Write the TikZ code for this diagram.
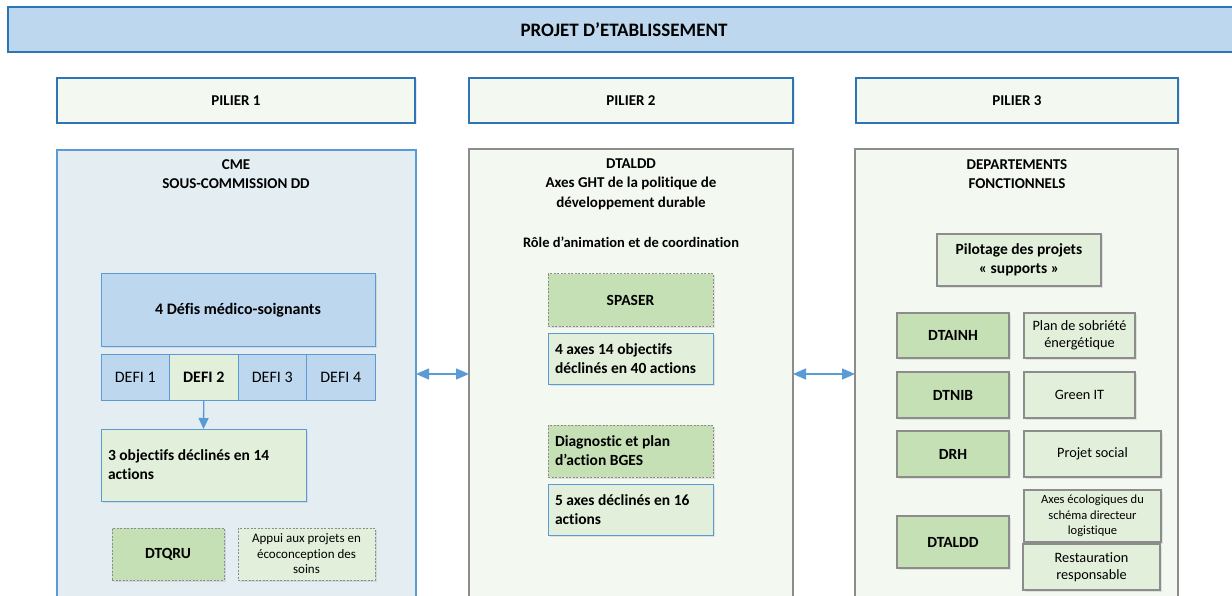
\documentclass[tikz,border=0pt]{standalone}
\usepackage{fontspec}
\setmainfont{Carlito}[Ligatures=NoCommon]
\usetikzlibrary{arrows.meta,shadows}
\definecolor{bluefill}{HTML}{BDD7EE}
\definecolor{blueline}{HTML}{5B9BD5}
\definecolor{darkblueline}{HTML}{2E75B6}
\definecolor{colonefill}{HTML}{E4EDF1}
\definecolor{palefill}{HTML}{F3F8F0}
\definecolor{greylinec}{HTML}{8C8C8C}
\definecolor{lightgreen}{HTML}{E2EFDA}
\definecolor{midgreen}{HTML}{C5E0B4}
\tikzset{
  sh/.style={drop shadow={opacity=0.18,shadow xshift=1.5pt,shadow yshift=-1.5pt}},
  basebox/.style={rectangle, inner sep=0pt, outer sep=0pt, align=center},
  topbox/.style={basebox, fill=bluefill, draw=darkblueline, line width=1.2pt, sh,
     font=\fontsize{19}{23}\selectfont\bfseries},
  pilbox/.style={basebox, fill=palefill, draw=darkblueline, line width=1.3pt, sh,
     font=\fontsize{15}{18}\selectfont\bfseries},
  colblue/.style={basebox, fill=colonefill, draw=blueline, line width=1.2pt},
  colgrey/.style={basebox, fill=palefill, draw=greylinec, line width=1.5pt},
  coltitle/.style={basebox, font=\fontsize{15}{19.5}\selectfont\bfseries},
  defisbox/.style={basebox, fill=bluefill, draw=blueline, line width=1pt, sh,
     font=\fontsize{16}{19}\selectfont\bfseries},
  deficell/.style={basebox, fill=bluefill, draw=blueline, line width=1pt,
     font=\fontsize{16}{18}\selectfont},
  greenblue/.style={basebox, fill=lightgreen, draw=blueline, line width=1pt, sh,
     font=\fontsize{15.5}{19}\selectfont\bfseries, align=flush left},
  dashmid/.style={basebox, fill=midgreen, draw=greylinec, line width=1pt,
     dash pattern=on 2pt off 1.5pt, sh, font=\fontsize{15.5}{19}\selectfont\bfseries},
  dashlight/.style={basebox, fill=lightgreen, draw=greylinec, line width=1pt,
     dash pattern=on 2pt off 1.5pt, sh, font=\fontsize{13}{15.5}\selectfont},
  solmid/.style={basebox, fill=midgreen, draw=greylinec, line width=1.3pt, sh,
     font=\fontsize{15.5}{19}\selectfont\bfseries},
  sollight/.style={basebox, fill=lightgreen, draw=greylinec, line width=1.3pt, sh,
     font=\fontsize{14.3}{17.5}\selectfont},
  bluearrow/.style={draw=blueline, line width=1.5pt,
     {Triangle[length=13pt,width=11pt]}-{Triangle[length=13pt,width=11pt]}},
  downarrow/.style={draw=blueline, line width=1.3pt,
     -{Triangle[length=11pt,width=10pt]}}
}
\begin{document}
\begin{tikzpicture}[x=1pt,y=-1pt]
\useasboundingbox (0,0) rectangle (1232,596);
\fill[white] (0,0) rectangle (1232,596);

% top banner
\node[topbox, minimum width=1232pt, minimum height=45pt] (top) at (624,29.5) {PROJET D’ETABLISSEMENT};

% pillars
\node[pilbox, minimum width=358pt, minimum height=45pt] (p1) at (236,100.5) {PILIER 1};
\node[pilbox, minimum width=324pt, minimum height=45pt] (p2) at (631,100.5) {PILIER 2};
\node[pilbox, minimum width=322pt, minimum height=45pt] (p3) at (1017,100.5) {PILIER 3};

% columns
\node[colblue, minimum width=359pt, minimum height=448pt] (c1) at (236.5,374) {};
\node[colgrey, minimum width=324pt, minimum height=450pt] (c2) at (631,374) {};
\node[colgrey, minimum width=323pt, minimum height=450pt] (c3) at (1016.5,374) {};

% arrows between columns
\draw[bluearrow] (c1.east) -- (c2.west);
\draw[bluearrow] (c2.east) -- (c3.west);

% column 1
\node[coltitle] (t1) at (236,174) {CME\\SOUS-COMMISSION DD};
\node[defisbox, minimum width=274pt, minimum height=72pt] (defis) at (238,310) {4 Défis médico-soignants};
\node[deficell, minimum width=68.5pt, minimum height=46pt] (d1) at (135.25,377) {DEFI 1};
\node[deficell, minimum width=68.5pt, minimum height=46pt, fill=lightgreen, font=\fontsize{16}{18}\selectfont\bfseries] (d2) at (203.75,377) {DEFI 2};
\node[deficell, minimum width=68.5pt, minimum height=46pt] (d3) at (272.25,377) {DEFI 3};
\node[deficell, minimum width=68.5pt, minimum height=46pt] (d4) at (340.75,377) {DEFI 4};
\node[greenblue, minimum width=205pt, minimum height=72pt, text width=191pt] (obj) at (203.5,465) {3 objectifs déclinés en 14\\actions};
\draw[downarrow] (d2.south) -- (obj.north);
\node[dashmid, minimum width=112pt, minimum height=52pt] (dtqru) at (168,554) {DTQRU};
\node[dashlight, minimum width=137pt, minimum height=52pt] (appui) at (306.5,554) {Appui aux projets en\\écoconception des\\soins};

% column 2
\node[coltitle] (t2a) at (631,184) {DTALDD\\Axes GHT de la politique de\\développement durable};
\node[coltitle, font=\fontsize{14.5}{19}\selectfont\bfseries] (t2b) at (631,242) {Rôle d’animation et de coordination};
\node[dashmid, minimum width=165pt, minimum height=52pt] (spaser) at (630.5,300) {SPASER};
\node[greenblue, minimum width=165pt, minimum height=51pt, text width=151pt] (axes4) at (630.5,358.5) {4 axes 14 objectifs\\déclinés en 40 actions};
\node[dashmid, minimum width=165pt, minimum height=52pt, text width=151pt, align=flush left] (diag) at (630.5,451) {Diagnostic et plan\\d’action BGES};
\node[greenblue, minimum width=165pt, minimum height=51pt, text width=151pt] (axes5) at (630.5,509.5) {5 axes déclinés en 16\\actions};

% column 3
\node[coltitle] (t3) at (1017,174) {DEPARTEMENTS\\FONCTIONNELS};
\node[sollight, minimum width=164pt, minimum height=52pt, font=\fontsize{15.5}{19}\selectfont\bfseries] (pilot) at (1019,260) {Pilotage des projets\\« supports »};
\node[solmid, minimum width=112pt, minimum height=45pt] (dtainh) at (953,335.5) {DTAINH};
\node[sollight, minimum width=111pt, minimum height=45pt] (plan) at (1079.5,335.5) {Plan de sobriété\\énergétique};
\node[solmid, minimum width=112pt, minimum height=46pt] (dtnib) at (953,395) {DTNIB};
\node[sollight, minimum width=111pt, minimum height=46pt] (green) at (1079.5,395) {Green IT};
\node[solmid, minimum width=112pt, minimum height=46pt] (drh) at (953,454) {DRH};
\node[sollight, minimum width=137pt, minimum height=46pt] (social) at (1092.5,454) {Projet social};
\node[sollight, minimum width=137pt, minimum height=52pt, font=\fontsize{12.5}{15.5}\selectfont] (eco) at (1092.5,516) {Axes écologiques du\\schéma directeur\\logistique};
\node[sollight, minimum width=137pt, minimum height=46pt] (resto) at (1091.5,567) {Restauration\\responsable};
\node[solmid, minimum width=112pt, minimum height=52pt] (dtaldd) at (953,542) {DTALDD};
\end{tikzpicture}
\end{document}
